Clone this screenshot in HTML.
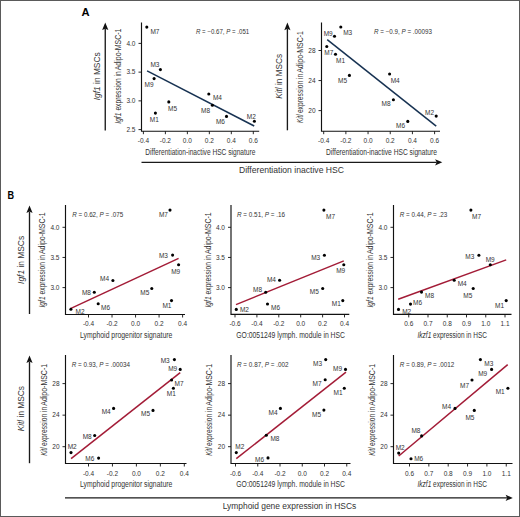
<!DOCTYPE html>
<html><head><meta charset="utf-8"><style>
html,body{margin:0;padding:0;background:#fff;}
body{width:520px;height:517px;overflow:hidden;}
svg{display:block;font-family:"Liberation Sans",sans-serif;}
</style></head><body>
<svg width="520" height="517" viewBox="0 0 520 517">
<rect x="0" y="0" width="520" height="517" fill="#fff"/>
<path d="M141.50,22.50 L141.50,131.20 L259.20,131.20" fill="none" stroke="#111" stroke-width="1.15"/>
<line x1="138.50" y1="43.40" x2="141.50" y2="43.40" stroke="#111" stroke-width="0.9"/>
<text x="135.50" y="45.71" font-size="6.5" text-anchor="end" fill="#333">4.0</text>
<line x1="138.50" y1="72.13" x2="141.50" y2="72.13" stroke="#111" stroke-width="0.9"/>
<text x="135.50" y="74.44" font-size="6.5" text-anchor="end" fill="#333">3.5</text>
<line x1="138.50" y1="100.87" x2="141.50" y2="100.87" stroke="#111" stroke-width="0.9"/>
<text x="135.50" y="103.17" font-size="6.5" text-anchor="end" fill="#333">3.0</text>
<line x1="138.50" y1="129.60" x2="141.50" y2="129.60" stroke="#111" stroke-width="0.9"/>
<text x="135.50" y="131.91" font-size="6.5" text-anchor="end" fill="#333">2.5</text>
<line x1="143.40" y1="131.20" x2="143.40" y2="134.20" stroke="#111" stroke-width="0.9"/>
<text x="143.40" y="143.01" font-size="6.5" text-anchor="middle" fill="#333">-0.4</text>
<line x1="165.38" y1="131.20" x2="165.38" y2="134.20" stroke="#111" stroke-width="0.9"/>
<text x="165.38" y="143.01" font-size="6.5" text-anchor="middle" fill="#333">-0.2</text>
<line x1="187.36" y1="131.20" x2="187.36" y2="134.20" stroke="#111" stroke-width="0.9"/>
<text x="187.36" y="143.01" font-size="6.5" text-anchor="middle" fill="#333">0.0</text>
<line x1="209.34" y1="131.20" x2="209.34" y2="134.20" stroke="#111" stroke-width="0.9"/>
<text x="209.34" y="143.01" font-size="6.5" text-anchor="middle" fill="#333">0.2</text>
<line x1="231.32" y1="131.20" x2="231.32" y2="134.20" stroke="#111" stroke-width="0.9"/>
<text x="231.32" y="143.01" font-size="6.5" text-anchor="middle" fill="#333">0.4</text>
<line x1="253.30" y1="131.20" x2="253.30" y2="134.20" stroke="#111" stroke-width="0.9"/>
<text x="253.30" y="143.01" font-size="6.5" text-anchor="middle" fill="#333">0.6</text>
<line x1="147.10" y1="70.80" x2="254.20" y2="126.00" stroke="#173252" stroke-width="1.5"/>
<circle cx="146.80" cy="27.10" r="1.55" fill="#000"/>
<text x="154.90" y="34.09" font-size="6.5" text-anchor="middle" fill="#333">M7</text>
<circle cx="160.40" cy="69.60" r="1.55" fill="#000"/>
<text x="154.90" y="67.09" font-size="6.5" text-anchor="middle" fill="#333">M3</text>
<circle cx="154.10" cy="78.60" r="1.55" fill="#000"/>
<text x="149.00" y="87.19" font-size="6.5" text-anchor="middle" fill="#333">M9</text>
<circle cx="168.80" cy="101.90" r="1.55" fill="#000"/>
<text x="172.50" y="111.39" font-size="6.5" text-anchor="middle" fill="#333">M5</text>
<circle cx="155.40" cy="113.10" r="1.55" fill="#000"/>
<text x="154.30" y="122.09" font-size="6.5" text-anchor="middle" fill="#333">M1</text>
<circle cx="208.80" cy="94.00" r="1.55" fill="#000"/>
<text x="217.40" y="99.79" font-size="6.5" text-anchor="middle" fill="#333">M4</text>
<circle cx="212.40" cy="105.20" r="1.55" fill="#000"/>
<text x="205.50" y="113.19" font-size="6.5" text-anchor="middle" fill="#333">M8</text>
<circle cx="226.50" cy="116.40" r="1.55" fill="#000"/>
<text x="220.40" y="123.69" font-size="6.5" text-anchor="middle" fill="#333">M6</text>
<circle cx="254.40" cy="121.20" r="1.55" fill="#000"/>
<text x="251.30" y="118.79" font-size="6.5" text-anchor="middle" fill="#333">M2</text>
<text x="196.00" y="34.10" font-size="6.3" fill="#333" textLength="53.20" lengthAdjust="spacingAndGlyphs"><tspan font-style="italic">R</tspan> = −0.67, <tspan font-style="italic">P</tspan> = .051</text>
<text x="145.30" y="154.70" font-size="9.2" fill="#333" textLength="110.10" lengthAdjust="spacingAndGlyphs">Differentiation-inactive HSC signature</text>
<text transform="translate(121.10,123.70) rotate(-90)" x="0" y="0" font-size="8.2" fill="#333" textLength="11.10" lengthAdjust="spacingAndGlyphs"><tspan font-style="italic">Igf1</tspan></text>
<text transform="translate(121.10,110.60) rotate(-90)" x="0" y="0" font-size="8.2" fill="#333" textLength="39.30" lengthAdjust="spacingAndGlyphs">expression in</text>
<text transform="translate(121.10,70.30) rotate(-90)" x="0" y="0" font-size="8.2" fill="#333" textLength="41.80" lengthAdjust="spacingAndGlyphs">Adipo-MSC-1</text>
<path d="M321.50,22.50 L321.50,131.20 L440.00,131.20" fill="none" stroke="#111" stroke-width="1.15"/>
<line x1="318.50" y1="50.50" x2="321.50" y2="50.50" stroke="#111" stroke-width="0.9"/>
<text x="315.50" y="52.81" font-size="6.5" text-anchor="end" fill="#333">28</text>
<line x1="318.50" y1="80.55" x2="321.50" y2="80.55" stroke="#111" stroke-width="0.9"/>
<text x="315.50" y="82.86" font-size="6.5" text-anchor="end" fill="#333">24</text>
<line x1="318.50" y1="110.60" x2="321.50" y2="110.60" stroke="#111" stroke-width="0.9"/>
<text x="315.50" y="112.91" font-size="6.5" text-anchor="end" fill="#333">20</text>
<line x1="323.70" y1="131.20" x2="323.70" y2="134.20" stroke="#111" stroke-width="0.9"/>
<text x="323.70" y="143.01" font-size="6.5" text-anchor="middle" fill="#333">-0.4</text>
<line x1="345.88" y1="131.20" x2="345.88" y2="134.20" stroke="#111" stroke-width="0.9"/>
<text x="345.88" y="143.01" font-size="6.5" text-anchor="middle" fill="#333">-0.2</text>
<line x1="368.06" y1="131.20" x2="368.06" y2="134.20" stroke="#111" stroke-width="0.9"/>
<text x="368.06" y="143.01" font-size="6.5" text-anchor="middle" fill="#333">0.0</text>
<line x1="390.24" y1="131.20" x2="390.24" y2="134.20" stroke="#111" stroke-width="0.9"/>
<text x="390.24" y="143.01" font-size="6.5" text-anchor="middle" fill="#333">0.2</text>
<line x1="412.42" y1="131.20" x2="412.42" y2="134.20" stroke="#111" stroke-width="0.9"/>
<text x="412.42" y="143.01" font-size="6.5" text-anchor="middle" fill="#333">0.4</text>
<line x1="434.60" y1="131.20" x2="434.60" y2="134.20" stroke="#111" stroke-width="0.9"/>
<text x="434.60" y="143.01" font-size="6.5" text-anchor="middle" fill="#333">0.6</text>
<line x1="327.20" y1="39.70" x2="436.20" y2="126.20" stroke="#173252" stroke-width="1.5"/>
<circle cx="340.80" cy="27.00" r="1.55" fill="#000"/>
<text x="347.70" y="34.69" font-size="6.5" text-anchor="middle" fill="#333">M3</text>
<circle cx="334.50" cy="36.30" r="1.55" fill="#000"/>
<text x="328.20" y="36.49" font-size="6.5" text-anchor="middle" fill="#333">M9</text>
<circle cx="326.80" cy="46.50" r="1.55" fill="#000"/>
<text x="328.80" y="55.29" font-size="6.5" text-anchor="middle" fill="#333">M7</text>
<circle cx="335.50" cy="54.20" r="1.55" fill="#000"/>
<text x="340.50" y="62.59" font-size="6.5" text-anchor="middle" fill="#333">M1</text>
<circle cx="349.40" cy="75.40" r="1.55" fill="#000"/>
<text x="342.60" y="82.69" font-size="6.5" text-anchor="middle" fill="#333">M5</text>
<circle cx="389.60" cy="74.00" r="1.55" fill="#000"/>
<text x="395.20" y="83.19" font-size="6.5" text-anchor="middle" fill="#333">M4</text>
<circle cx="393.40" cy="99.80" r="1.55" fill="#000"/>
<text x="386.00" y="105.79" font-size="6.5" text-anchor="middle" fill="#333">M8</text>
<circle cx="436.20" cy="116.10" r="1.55" fill="#000"/>
<text x="429.60" y="114.79" font-size="6.5" text-anchor="middle" fill="#333">M2</text>
<circle cx="407.80" cy="121.40" r="1.55" fill="#000"/>
<text x="400.60" y="127.89" font-size="6.5" text-anchor="middle" fill="#333">M6</text>
<text x="374.00" y="34.10" font-size="6.3" fill="#333" textLength="57.90" lengthAdjust="spacingAndGlyphs"><tspan font-style="italic">R</tspan> = −0.9, <tspan font-style="italic">P</tspan> = .00093</text>
<text x="326.00" y="154.70" font-size="9.2" fill="#333" textLength="111.00" lengthAdjust="spacingAndGlyphs">Differentiation-inactive HSC signature</text>
<text transform="translate(302.90,122.90) rotate(-90)" x="0" y="0" font-size="8.2" fill="#333" textLength="8.40" lengthAdjust="spacingAndGlyphs"><tspan font-style="italic">Kitl</tspan></text>
<text transform="translate(302.90,113.10) rotate(-90)" x="0" y="0" font-size="8.2" fill="#333" textLength="39.30" lengthAdjust="spacingAndGlyphs">expression in</text>
<text transform="translate(302.90,72.80) rotate(-90)" x="0" y="0" font-size="8.2" fill="#333" textLength="41.80" lengthAdjust="spacingAndGlyphs">Adipo-MSC-1</text>
<path d="M65.50,205.00 L65.50,314.50 L185.00,314.50" fill="none" stroke="#111" stroke-width="1.15"/>
<line x1="62.50" y1="227.30" x2="65.50" y2="227.30" stroke="#111" stroke-width="0.9"/>
<text x="59.50" y="229.61" font-size="6.5" text-anchor="end" fill="#333">4.0</text>
<line x1="62.50" y1="257.45" x2="65.50" y2="257.45" stroke="#111" stroke-width="0.9"/>
<text x="59.50" y="259.76" font-size="6.5" text-anchor="end" fill="#333">3.5</text>
<line x1="62.50" y1="287.60" x2="65.50" y2="287.60" stroke="#111" stroke-width="0.9"/>
<text x="59.50" y="289.91" font-size="6.5" text-anchor="end" fill="#333">3.0</text>
<line x1="88.50" y1="314.50" x2="88.50" y2="317.50" stroke="#111" stroke-width="0.9"/>
<text x="88.50" y="325.81" font-size="6.5" text-anchor="middle" fill="#333">-0.4</text>
<line x1="112.03" y1="314.50" x2="112.03" y2="317.50" stroke="#111" stroke-width="0.9"/>
<text x="112.03" y="325.81" font-size="6.5" text-anchor="middle" fill="#333">-0.2</text>
<line x1="135.55" y1="314.50" x2="135.55" y2="317.50" stroke="#111" stroke-width="0.9"/>
<text x="135.55" y="325.81" font-size="6.5" text-anchor="middle" fill="#333">0.0</text>
<line x1="159.07" y1="314.50" x2="159.07" y2="317.50" stroke="#111" stroke-width="0.9"/>
<text x="159.07" y="325.81" font-size="6.5" text-anchor="middle" fill="#333">0.2</text>
<line x1="182.60" y1="314.50" x2="182.60" y2="317.50" stroke="#111" stroke-width="0.9"/>
<text x="182.60" y="325.81" font-size="6.5" text-anchor="middle" fill="#333">0.4</text>
<line x1="70.40" y1="308.60" x2="178.60" y2="258.40" stroke="#a31c37" stroke-width="1.5"/>
<circle cx="170.00" cy="210.10" r="1.55" fill="#000"/>
<text x="163.40" y="217.09" font-size="6.5" text-anchor="middle" fill="#333">M7</text>
<circle cx="172.60" cy="255.10" r="1.55" fill="#000"/>
<text x="163.40" y="257.79" font-size="6.5" text-anchor="middle" fill="#333">M3</text>
<circle cx="178.60" cy="264.70" r="1.55" fill="#000"/>
<text x="175.70" y="274.19" font-size="6.5" text-anchor="middle" fill="#333">M9</text>
<circle cx="112.90" cy="280.50" r="1.55" fill="#000"/>
<text x="104.50" y="281.49" font-size="6.5" text-anchor="middle" fill="#333">M4</text>
<circle cx="151.80" cy="288.50" r="1.55" fill="#000"/>
<text x="144.80" y="295.39" font-size="6.5" text-anchor="middle" fill="#333">M5</text>
<circle cx="94.30" cy="292.30" r="1.55" fill="#000"/>
<text x="86.40" y="295.29" font-size="6.5" text-anchor="middle" fill="#333">M8</text>
<circle cx="171.50" cy="300.60" r="1.55" fill="#000"/>
<text x="166.90" y="308.49" font-size="6.5" text-anchor="middle" fill="#333">M1</text>
<circle cx="98.20" cy="303.80" r="1.55" fill="#000"/>
<text x="105.60" y="309.79" font-size="6.5" text-anchor="middle" fill="#333">M6</text>
<circle cx="70.90" cy="309.20" r="1.55" fill="#000"/>
<text x="80.00" y="313.69" font-size="6.5" text-anchor="middle" fill="#333">M2</text>
<text x="72.20" y="217.10" font-size="6.3" fill="#333" textLength="51.00" lengthAdjust="spacingAndGlyphs"><tspan font-style="italic">R</tspan> = 0.62, <tspan font-style="italic">P</tspan> = .075</text>
<text x="80.00" y="338.20" font-size="9.2" fill="#333" textLength="92.30" lengthAdjust="spacingAndGlyphs">Lymphoid progenitor signature</text>
<text transform="translate(45.10,307.50) rotate(-90)" x="0" y="0" font-size="8.2" fill="#333" textLength="11.10" lengthAdjust="spacingAndGlyphs"><tspan font-style="italic">Igf1</tspan></text>
<text transform="translate(45.10,294.40) rotate(-90)" x="0" y="0" font-size="8.2" fill="#333" textLength="39.30" lengthAdjust="spacingAndGlyphs">expression in</text>
<text transform="translate(45.10,254.10) rotate(-90)" x="0" y="0" font-size="8.2" fill="#333" textLength="41.80" lengthAdjust="spacingAndGlyphs">Adipo-MSC-1</text>
<path d="M231.00,205.00 L231.00,314.40 L349.30,314.40" fill="none" stroke="#111" stroke-width="1.15"/>
<line x1="228.00" y1="227.30" x2="231.00" y2="227.30" stroke="#111" stroke-width="0.9"/>
<text x="225.00" y="229.61" font-size="6.5" text-anchor="end" fill="#333">4.0</text>
<line x1="228.00" y1="257.45" x2="231.00" y2="257.45" stroke="#111" stroke-width="0.9"/>
<text x="225.00" y="259.76" font-size="6.5" text-anchor="end" fill="#333">3.5</text>
<line x1="228.00" y1="287.60" x2="231.00" y2="287.60" stroke="#111" stroke-width="0.9"/>
<text x="225.00" y="289.91" font-size="6.5" text-anchor="end" fill="#333">3.0</text>
<line x1="235.00" y1="314.40" x2="235.00" y2="317.40" stroke="#111" stroke-width="0.9"/>
<text x="235.00" y="325.81" font-size="6.5" text-anchor="middle" fill="#333">-0.6</text>
<line x1="256.90" y1="314.40" x2="256.90" y2="317.40" stroke="#111" stroke-width="0.9"/>
<text x="256.90" y="325.81" font-size="6.5" text-anchor="middle" fill="#333">-0.4</text>
<line x1="278.80" y1="314.40" x2="278.80" y2="317.40" stroke="#111" stroke-width="0.9"/>
<text x="278.80" y="325.81" font-size="6.5" text-anchor="middle" fill="#333">-0.2</text>
<line x1="300.70" y1="314.40" x2="300.70" y2="317.40" stroke="#111" stroke-width="0.9"/>
<text x="300.70" y="325.81" font-size="6.5" text-anchor="middle" fill="#333">0.0</text>
<line x1="322.60" y1="314.40" x2="322.60" y2="317.40" stroke="#111" stroke-width="0.9"/>
<text x="322.60" y="325.81" font-size="6.5" text-anchor="middle" fill="#333">0.2</text>
<line x1="344.50" y1="314.40" x2="344.50" y2="317.40" stroke="#111" stroke-width="0.9"/>
<text x="344.50" y="325.81" font-size="6.5" text-anchor="middle" fill="#333">0.4</text>
<line x1="236.00" y1="304.60" x2="343.80" y2="260.90" stroke="#a31c37" stroke-width="1.5"/>
<circle cx="323.90" cy="210.10" r="1.55" fill="#000"/>
<text x="330.50" y="219.09" font-size="6.5" text-anchor="middle" fill="#333">M7</text>
<circle cx="324.40" cy="255.30" r="1.55" fill="#000"/>
<text x="315.70" y="259.99" font-size="6.5" text-anchor="middle" fill="#333">M3</text>
<circle cx="343.80" cy="264.70" r="1.55" fill="#000"/>
<text x="340.70" y="272.89" font-size="6.5" text-anchor="middle" fill="#333">M9</text>
<circle cx="279.60" cy="280.20" r="1.55" fill="#000"/>
<text x="271.40" y="281.99" font-size="6.5" text-anchor="middle" fill="#333">M4</text>
<circle cx="322.70" cy="288.50" r="1.55" fill="#000"/>
<text x="314.30" y="294.29" font-size="6.5" text-anchor="middle" fill="#333">M5</text>
<circle cx="265.70" cy="292.20" r="1.55" fill="#000"/>
<text x="257.60" y="292.49" font-size="6.5" text-anchor="middle" fill="#333">M8</text>
<circle cx="342.80" cy="300.60" r="1.55" fill="#000"/>
<text x="336.30" y="306.39" font-size="6.5" text-anchor="middle" fill="#333">M1</text>
<circle cx="267.50" cy="304.00" r="1.55" fill="#000"/>
<text x="275.50" y="309.89" font-size="6.5" text-anchor="middle" fill="#333">M6</text>
<circle cx="236.30" cy="309.40" r="1.55" fill="#000"/>
<text x="244.40" y="312.39" font-size="6.5" text-anchor="middle" fill="#333">M2</text>
<text x="237.00" y="217.10" font-size="6.3" fill="#333" textLength="48.00" lengthAdjust="spacingAndGlyphs"><tspan font-style="italic">R</tspan> = 0.51, <tspan font-style="italic">P</tspan> = .16</text>
<text x="236.30" y="338.20" font-size="9.2" fill="#333" textLength="108.70" lengthAdjust="spacingAndGlyphs">GO:0051249 lymph. module in HSC</text>
<text transform="translate(210.50,307.50) rotate(-90)" x="0" y="0" font-size="8.2" fill="#333" textLength="11.10" lengthAdjust="spacingAndGlyphs"><tspan font-style="italic">Igf1</tspan></text>
<text transform="translate(210.50,294.40) rotate(-90)" x="0" y="0" font-size="8.2" fill="#333" textLength="39.30" lengthAdjust="spacingAndGlyphs">expression in</text>
<text transform="translate(210.50,254.10) rotate(-90)" x="0" y="0" font-size="8.2" fill="#333" textLength="41.80" lengthAdjust="spacingAndGlyphs">Adipo-MSC-1</text>
<path d="M393.50,205.00 L393.50,314.40 L511.50,314.40" fill="none" stroke="#111" stroke-width="1.15"/>
<line x1="390.50" y1="227.30" x2="393.50" y2="227.30" stroke="#111" stroke-width="0.9"/>
<text x="387.50" y="229.61" font-size="6.5" text-anchor="end" fill="#333">4.0</text>
<line x1="390.50" y1="257.45" x2="393.50" y2="257.45" stroke="#111" stroke-width="0.9"/>
<text x="387.50" y="259.76" font-size="6.5" text-anchor="end" fill="#333">3.5</text>
<line x1="390.50" y1="287.60" x2="393.50" y2="287.60" stroke="#111" stroke-width="0.9"/>
<text x="387.50" y="289.91" font-size="6.5" text-anchor="end" fill="#333">3.0</text>
<line x1="408.75" y1="314.40" x2="408.75" y2="317.40" stroke="#111" stroke-width="0.9"/>
<text x="408.75" y="325.51" font-size="6.5" text-anchor="middle" fill="#333">0.6</text>
<line x1="428.00" y1="314.40" x2="428.00" y2="317.40" stroke="#111" stroke-width="0.9"/>
<text x="428.00" y="325.51" font-size="6.5" text-anchor="middle" fill="#333">0.7</text>
<line x1="447.25" y1="314.40" x2="447.25" y2="317.40" stroke="#111" stroke-width="0.9"/>
<text x="447.25" y="325.51" font-size="6.5" text-anchor="middle" fill="#333">0.8</text>
<line x1="466.50" y1="314.40" x2="466.50" y2="317.40" stroke="#111" stroke-width="0.9"/>
<text x="466.50" y="325.51" font-size="6.5" text-anchor="middle" fill="#333">0.9</text>
<line x1="485.75" y1="314.40" x2="485.75" y2="317.40" stroke="#111" stroke-width="0.9"/>
<text x="485.75" y="325.51" font-size="6.5" text-anchor="middle" fill="#333">1.0</text>
<line x1="505.00" y1="314.40" x2="505.00" y2="317.40" stroke="#111" stroke-width="0.9"/>
<text x="505.00" y="325.51" font-size="6.5" text-anchor="middle" fill="#333">1.1</text>
<line x1="398.20" y1="299.30" x2="506.20" y2="259.90" stroke="#a31c37" stroke-width="1.5"/>
<circle cx="470.90" cy="210.10" r="1.55" fill="#000"/>
<text x="476.50" y="219.09" font-size="6.5" text-anchor="middle" fill="#333">M7</text>
<circle cx="478.90" cy="255.30" r="1.55" fill="#000"/>
<text x="469.80" y="259.09" font-size="6.5" text-anchor="middle" fill="#333">M3</text>
<circle cx="490.30" cy="264.70" r="1.55" fill="#000"/>
<text x="490.20" y="261.59" font-size="6.5" text-anchor="middle" fill="#333">M9</text>
<circle cx="454.20" cy="280.20" r="1.55" fill="#000"/>
<text x="462.20" y="285.99" font-size="6.5" text-anchor="middle" fill="#333">M4</text>
<circle cx="473.20" cy="288.50" r="1.55" fill="#000"/>
<text x="467.80" y="297.59" font-size="6.5" text-anchor="middle" fill="#333">M5</text>
<circle cx="421.50" cy="292.10" r="1.55" fill="#000"/>
<text x="429.50" y="298.09" font-size="6.5" text-anchor="middle" fill="#333">M8</text>
<circle cx="506.20" cy="300.60" r="1.55" fill="#000"/>
<text x="499.60" y="308.39" font-size="6.5" text-anchor="middle" fill="#333">M1</text>
<circle cx="410.50" cy="304.10" r="1.55" fill="#000"/>
<text x="417.50" y="305.09" font-size="6.5" text-anchor="middle" fill="#333">M6</text>
<circle cx="398.50" cy="309.40" r="1.55" fill="#000"/>
<text x="406.70" y="313.69" font-size="6.5" text-anchor="middle" fill="#333">M2</text>
<text x="399.70" y="217.10" font-size="6.3" fill="#333" textLength="47.60" lengthAdjust="spacingAndGlyphs"><tspan font-style="italic">R</tspan> = 0.44, <tspan font-style="italic">P</tspan> = .23</text>
<text x="417.50" y="338.20" font-size="9.2" fill="#333" textLength="69.50" lengthAdjust="spacingAndGlyphs"><tspan font-style="italic">Ikzf1</tspan> expression in HSC</text>
<text transform="translate(372.90,307.50) rotate(-90)" x="0" y="0" font-size="8.2" fill="#333" textLength="11.10" lengthAdjust="spacingAndGlyphs"><tspan font-style="italic">Igf1</tspan></text>
<text transform="translate(372.90,294.40) rotate(-90)" x="0" y="0" font-size="8.2" fill="#333" textLength="39.30" lengthAdjust="spacingAndGlyphs">expression in</text>
<text transform="translate(372.90,254.10) rotate(-90)" x="0" y="0" font-size="8.2" fill="#333" textLength="41.80" lengthAdjust="spacingAndGlyphs">Adipo-MSC-1</text>
<path d="M65.50,355.00 L65.50,463.50 L186.50,463.50" fill="none" stroke="#111" stroke-width="1.15"/>
<line x1="62.50" y1="383.60" x2="65.50" y2="383.60" stroke="#111" stroke-width="0.9"/>
<text x="59.50" y="385.91" font-size="6.5" text-anchor="end" fill="#333">28</text>
<line x1="62.50" y1="415.15" x2="65.50" y2="415.15" stroke="#111" stroke-width="0.9"/>
<text x="59.50" y="417.46" font-size="6.5" text-anchor="end" fill="#333">24</text>
<line x1="62.50" y1="446.70" x2="65.50" y2="446.70" stroke="#111" stroke-width="0.9"/>
<text x="59.50" y="449.01" font-size="6.5" text-anchor="end" fill="#333">20</text>
<line x1="88.50" y1="463.50" x2="88.50" y2="466.50" stroke="#111" stroke-width="0.9"/>
<text x="88.50" y="475.81" font-size="6.5" text-anchor="middle" fill="#333">-0.4</text>
<line x1="112.45" y1="463.50" x2="112.45" y2="466.50" stroke="#111" stroke-width="0.9"/>
<text x="112.45" y="475.81" font-size="6.5" text-anchor="middle" fill="#333">-0.2</text>
<line x1="136.40" y1="463.50" x2="136.40" y2="466.50" stroke="#111" stroke-width="0.9"/>
<text x="136.40" y="475.81" font-size="6.5" text-anchor="middle" fill="#333">0.0</text>
<line x1="160.35" y1="463.50" x2="160.35" y2="466.50" stroke="#111" stroke-width="0.9"/>
<text x="160.35" y="475.81" font-size="6.5" text-anchor="middle" fill="#333">0.2</text>
<line x1="184.30" y1="463.50" x2="184.30" y2="466.50" stroke="#111" stroke-width="0.9"/>
<text x="184.30" y="475.81" font-size="6.5" text-anchor="middle" fill="#333">0.4</text>
<line x1="71.10" y1="458.70" x2="180.20" y2="372.70" stroke="#a31c37" stroke-width="1.5"/>
<circle cx="174.40" cy="359.60" r="1.55" fill="#000"/>
<text x="165.20" y="363.09" font-size="6.5" text-anchor="middle" fill="#333">M3</text>
<circle cx="180.20" cy="369.40" r="1.55" fill="#000"/>
<text x="172.70" y="371.39" font-size="6.5" text-anchor="middle" fill="#333">M9</text>
<circle cx="171.60" cy="380.00" r="1.55" fill="#000"/>
<text x="179.00" y="386.49" font-size="6.5" text-anchor="middle" fill="#333">M7</text>
<circle cx="173.40" cy="388.20" r="1.55" fill="#000"/>
<text x="171.30" y="396.49" font-size="6.5" text-anchor="middle" fill="#333">M1</text>
<circle cx="113.60" cy="408.40" r="1.55" fill="#000"/>
<text x="106.20" y="413.59" font-size="6.5" text-anchor="middle" fill="#333">M4</text>
<circle cx="153.00" cy="410.40" r="1.55" fill="#000"/>
<text x="145.50" y="415.89" font-size="6.5" text-anchor="middle" fill="#333">M5</text>
<circle cx="94.70" cy="435.50" r="1.55" fill="#000"/>
<text x="87.20" y="438.89" font-size="6.5" text-anchor="middle" fill="#333">M8</text>
<circle cx="71.00" cy="452.60" r="1.55" fill="#000"/>
<text x="72.20" y="449.29" font-size="6.5" text-anchor="middle" fill="#333">M2</text>
<circle cx="98.60" cy="458.10" r="1.55" fill="#000"/>
<text x="89.80" y="460.69" font-size="6.5" text-anchor="middle" fill="#333">M6</text>
<text x="71.80" y="366.60" font-size="6.3" fill="#333" textLength="58.10" lengthAdjust="spacingAndGlyphs"><tspan font-style="italic">R</tspan> = 0.93, <tspan font-style="italic">P</tspan> = .00034</text>
<text x="80.00" y="486.90" font-size="9.2" fill="#333" textLength="92.30" lengthAdjust="spacingAndGlyphs">Lymphoid progenitor signature</text>
<text transform="translate(47.00,455.80) rotate(-90)" x="0" y="0" font-size="8.2" fill="#333" textLength="8.40" lengthAdjust="spacingAndGlyphs"><tspan font-style="italic">Kitl</tspan></text>
<text transform="translate(47.00,446.00) rotate(-90)" x="0" y="0" font-size="8.2" fill="#333" textLength="39.30" lengthAdjust="spacingAndGlyphs">expression in</text>
<text transform="translate(47.00,405.70) rotate(-90)" x="0" y="0" font-size="8.2" fill="#333" textLength="41.80" lengthAdjust="spacingAndGlyphs">Adipo-MSC-1</text>
<path d="M231.00,355.00 L231.00,463.50 L350.50,463.50" fill="none" stroke="#111" stroke-width="1.15"/>
<line x1="228.00" y1="383.60" x2="231.00" y2="383.60" stroke="#111" stroke-width="0.9"/>
<text x="225.00" y="385.91" font-size="6.5" text-anchor="end" fill="#333">28</text>
<line x1="228.00" y1="415.15" x2="231.00" y2="415.15" stroke="#111" stroke-width="0.9"/>
<text x="225.00" y="417.46" font-size="6.5" text-anchor="end" fill="#333">24</text>
<line x1="228.00" y1="446.70" x2="231.00" y2="446.70" stroke="#111" stroke-width="0.9"/>
<text x="225.00" y="449.01" font-size="6.5" text-anchor="end" fill="#333">20</text>
<line x1="235.50" y1="463.50" x2="235.50" y2="466.50" stroke="#111" stroke-width="0.9"/>
<text x="235.50" y="475.81" font-size="6.5" text-anchor="middle" fill="#333">-0.6</text>
<line x1="257.75" y1="463.50" x2="257.75" y2="466.50" stroke="#111" stroke-width="0.9"/>
<text x="257.75" y="475.81" font-size="6.5" text-anchor="middle" fill="#333">-0.4</text>
<line x1="280.00" y1="463.50" x2="280.00" y2="466.50" stroke="#111" stroke-width="0.9"/>
<text x="280.00" y="475.81" font-size="6.5" text-anchor="middle" fill="#333">-0.2</text>
<line x1="302.25" y1="463.50" x2="302.25" y2="466.50" stroke="#111" stroke-width="0.9"/>
<text x="302.25" y="475.81" font-size="6.5" text-anchor="middle" fill="#333">0.0</text>
<line x1="324.50" y1="463.50" x2="324.50" y2="466.50" stroke="#111" stroke-width="0.9"/>
<text x="324.50" y="475.81" font-size="6.5" text-anchor="middle" fill="#333">0.2</text>
<line x1="346.75" y1="463.50" x2="346.75" y2="466.50" stroke="#111" stroke-width="0.9"/>
<text x="346.75" y="475.81" font-size="6.5" text-anchor="middle" fill="#333">0.4</text>
<line x1="236.30" y1="458.70" x2="346.00" y2="372.20" stroke="#a31c37" stroke-width="1.5"/>
<circle cx="325.70" cy="359.60" r="1.55" fill="#000"/>
<text x="317.50" y="365.59" font-size="6.5" text-anchor="middle" fill="#333">M3</text>
<circle cx="345.50" cy="369.40" r="1.55" fill="#000"/>
<text x="337.60" y="370.89" font-size="6.5" text-anchor="middle" fill="#333">M9</text>
<circle cx="325.20" cy="379.70" r="1.55" fill="#000"/>
<text x="317.00" y="386.19" font-size="6.5" text-anchor="middle" fill="#333">M7</text>
<circle cx="344.30" cy="388.20" r="1.55" fill="#000"/>
<text x="338.00" y="395.29" font-size="6.5" text-anchor="middle" fill="#333">M1</text>
<circle cx="280.40" cy="408.40" r="1.55" fill="#000"/>
<text x="273.10" y="415.39" font-size="6.5" text-anchor="middle" fill="#333">M4</text>
<circle cx="323.90" cy="410.10" r="1.55" fill="#000"/>
<text x="316.50" y="417.19" font-size="6.5" text-anchor="middle" fill="#333">M5</text>
<circle cx="266.30" cy="435.30" r="1.55" fill="#000"/>
<text x="274.90" y="441.39" font-size="6.5" text-anchor="middle" fill="#333">M8</text>
<circle cx="236.30" cy="452.60" r="1.55" fill="#000"/>
<text x="239.80" y="449.29" font-size="6.5" text-anchor="middle" fill="#333">M2</text>
<circle cx="268.00" cy="457.90" r="1.55" fill="#000"/>
<text x="259.60" y="461.69" font-size="6.5" text-anchor="middle" fill="#333">M6</text>
<text x="237.00" y="366.60" font-size="6.3" fill="#333" textLength="51.60" lengthAdjust="spacingAndGlyphs"><tspan font-style="italic">R</tspan> = 0.87, <tspan font-style="italic">P</tspan> = .002</text>
<text x="236.30" y="486.90" font-size="9.2" fill="#333" textLength="108.70" lengthAdjust="spacingAndGlyphs">GO:0051249 lymph. module in HSC</text>
<text transform="translate(212.40,455.80) rotate(-90)" x="0" y="0" font-size="8.2" fill="#333" textLength="8.40" lengthAdjust="spacingAndGlyphs"><tspan font-style="italic">Kitl</tspan></text>
<text transform="translate(212.40,446.00) rotate(-90)" x="0" y="0" font-size="8.2" fill="#333" textLength="39.30" lengthAdjust="spacingAndGlyphs">expression in</text>
<text transform="translate(212.40,405.70) rotate(-90)" x="0" y="0" font-size="8.2" fill="#333" textLength="41.80" lengthAdjust="spacingAndGlyphs">Adipo-MSC-1</text>
<path d="M393.50,355.00 L393.50,463.50 L512.50,463.50" fill="none" stroke="#111" stroke-width="1.15"/>
<line x1="390.50" y1="383.60" x2="393.50" y2="383.60" stroke="#111" stroke-width="0.9"/>
<text x="387.50" y="385.91" font-size="6.5" text-anchor="end" fill="#333">28</text>
<line x1="390.50" y1="415.15" x2="393.50" y2="415.15" stroke="#111" stroke-width="0.9"/>
<text x="387.50" y="417.46" font-size="6.5" text-anchor="end" fill="#333">24</text>
<line x1="390.50" y1="446.70" x2="393.50" y2="446.70" stroke="#111" stroke-width="0.9"/>
<text x="387.50" y="449.01" font-size="6.5" text-anchor="end" fill="#333">20</text>
<line x1="409.50" y1="463.50" x2="409.50" y2="466.50" stroke="#111" stroke-width="0.9"/>
<text x="409.50" y="475.81" font-size="6.5" text-anchor="middle" fill="#333">0.6</text>
<line x1="428.85" y1="463.50" x2="428.85" y2="466.50" stroke="#111" stroke-width="0.9"/>
<text x="428.85" y="475.81" font-size="6.5" text-anchor="middle" fill="#333">0.7</text>
<line x1="448.20" y1="463.50" x2="448.20" y2="466.50" stroke="#111" stroke-width="0.9"/>
<text x="448.20" y="475.81" font-size="6.5" text-anchor="middle" fill="#333">0.8</text>
<line x1="467.55" y1="463.50" x2="467.55" y2="466.50" stroke="#111" stroke-width="0.9"/>
<text x="467.55" y="475.81" font-size="6.5" text-anchor="middle" fill="#333">0.9</text>
<line x1="486.90" y1="463.50" x2="486.90" y2="466.50" stroke="#111" stroke-width="0.9"/>
<text x="486.90" y="475.81" font-size="6.5" text-anchor="middle" fill="#333">1.0</text>
<line x1="506.25" y1="463.50" x2="506.25" y2="466.50" stroke="#111" stroke-width="0.9"/>
<text x="506.25" y="475.81" font-size="6.5" text-anchor="middle" fill="#333">1.1</text>
<line x1="398.70" y1="456.00" x2="507.70" y2="364.60" stroke="#a31c37" stroke-width="1.5"/>
<circle cx="480.40" cy="359.60" r="1.55" fill="#000"/>
<text x="488.80" y="365.59" font-size="6.5" text-anchor="middle" fill="#333">M3</text>
<circle cx="491.60" cy="369.40" r="1.55" fill="#000"/>
<text x="482.70" y="376.39" font-size="6.5" text-anchor="middle" fill="#333">M9</text>
<circle cx="472.00" cy="380.00" r="1.55" fill="#000"/>
<text x="464.60" y="388.19" font-size="6.5" text-anchor="middle" fill="#333">M7</text>
<circle cx="507.90" cy="388.20" r="1.55" fill="#000"/>
<text x="500.20" y="393.99" font-size="6.5" text-anchor="middle" fill="#333">M1</text>
<circle cx="455.00" cy="408.40" r="1.55" fill="#000"/>
<text x="446.50" y="408.89" font-size="6.5" text-anchor="middle" fill="#333">M4</text>
<circle cx="474.30" cy="410.40" r="1.55" fill="#000"/>
<text x="469.90" y="419.69" font-size="6.5" text-anchor="middle" fill="#333">M5</text>
<circle cx="421.60" cy="435.90" r="1.55" fill="#000"/>
<text x="415.90" y="432.99" font-size="6.5" text-anchor="middle" fill="#333">M8</text>
<circle cx="398.70" cy="453.10" r="1.55" fill="#000"/>
<text x="400.20" y="449.79" font-size="6.5" text-anchor="middle" fill="#333">M2</text>
<circle cx="411.00" cy="458.70" r="1.55" fill="#000"/>
<text x="418.70" y="460.99" font-size="6.5" text-anchor="middle" fill="#333">M6</text>
<text x="399.70" y="366.60" font-size="6.3" fill="#333" textLength="54.60" lengthAdjust="spacingAndGlyphs"><tspan font-style="italic">R</tspan> = 0.89, <tspan font-style="italic">P</tspan> = .0012</text>
<text x="417.50" y="486.90" font-size="9.2" fill="#333" textLength="69.50" lengthAdjust="spacingAndGlyphs"><tspan font-style="italic">Ikzf1</tspan> expression in HSC</text>
<text transform="translate(374.90,455.80) rotate(-90)" x="0" y="0" font-size="8.2" fill="#333" textLength="8.40" lengthAdjust="spacingAndGlyphs"><tspan font-style="italic">Kitl</tspan></text>
<text transform="translate(374.90,446.00) rotate(-90)" x="0" y="0" font-size="8.2" fill="#333" textLength="39.30" lengthAdjust="spacingAndGlyphs">expression in</text>
<text transform="translate(374.90,405.70) rotate(-90)" x="0" y="0" font-size="8.2" fill="#333" textLength="41.80" lengthAdjust="spacingAndGlyphs">Adipo-MSC-1</text>
<line x1="105.25" y1="130.50" x2="105.25" y2="28.70" stroke="#1a1a1a" stroke-width="1.35"/>
<path d="M105.25,22.50 L108.35,30.10 L105.25,28.70 L102.15,30.10 Z" fill="#111"/>
<text transform="translate(100.30,76.30) rotate(-90)" x="0" y="0" font-size="8.6" text-anchor="middle" fill="#333" textLength="48.00" lengthAdjust="spacingAndGlyphs"><tspan font-style="italic">Igf1</tspan> in MSCs</text>
<line x1="287.40" y1="130.30" x2="287.40" y2="28.80" stroke="#1a1a1a" stroke-width="1.35"/>
<path d="M287.40,22.60 L290.50,30.20 L287.40,28.80 L284.30,30.20 Z" fill="#111"/>
<text transform="translate(282.30,76.40) rotate(-90)" x="0" y="0" font-size="8.6" text-anchor="middle" fill="#333" textLength="44.90" lengthAdjust="spacingAndGlyphs"><tspan font-style="italic">Kitl</tspan> in MSCs</text>
<line x1="29.50" y1="314.00" x2="29.50" y2="211.60" stroke="#1a1a1a" stroke-width="1.35"/>
<path d="M29.50,205.40 L32.60,213.00 L29.50,211.60 L26.40,213.00 Z" fill="#111"/>
<text transform="translate(24.10,259.90) rotate(-90)" x="0" y="0" font-size="8.6" text-anchor="middle" fill="#333" textLength="48.00" lengthAdjust="spacingAndGlyphs"><tspan font-style="italic">Igf1</tspan> in MSCs</text>
<line x1="29.50" y1="463.20" x2="29.50" y2="361.60" stroke="#1a1a1a" stroke-width="1.35"/>
<path d="M29.50,355.40 L32.60,363.00 L29.50,361.60 L26.40,363.00 Z" fill="#111"/>
<text transform="translate(24.30,408.70) rotate(-90)" x="0" y="0" font-size="8.6" text-anchor="middle" fill="#333" textLength="45.30" lengthAdjust="spacingAndGlyphs"><tspan font-style="italic">Kitl</tspan> in MSCs</text>
<line x1="141.50" y1="162.30" x2="436.70" y2="162.30" stroke="#1a1a1a" stroke-width="1.3"/>
<path d="M442.30,162.30 L435.10,159.20 L436.70,162.30 L435.10,165.40 Z" fill="#111"/>
<text x="239.0" y="172.6" font-size="9.2" fill="#333" textLength="105.0" lengthAdjust="spacingAndGlyphs">Differentiation inactive HSC</text>
<line x1="65.00" y1="497.90" x2="507.20" y2="497.90" stroke="#1a1a1a" stroke-width="1.3"/>
<path d="M512.80,497.90 L505.60,494.80 L507.20,497.90 L505.60,501.00 Z" fill="#111"/>
<text x="222.7" y="508.6" font-size="9.2" fill="#333" textLength="133.6" lengthAdjust="spacingAndGlyphs">Lymphoid gene expression in HSCs</text>
<text x="81.6" y="15.6" font-size="11.2" font-weight="bold" fill="#000" textLength="8.1" lengthAdjust="spacingAndGlyphs">A</text>
<text x="7.4" y="199.0" font-size="11.2" font-weight="bold" fill="#000" textLength="6.6" lengthAdjust="spacingAndGlyphs">B</text>
<rect x="0.5" y="0.5" width="519" height="516" fill="none" stroke="#5a5a5a" stroke-width="1"/>
</svg>
</body></html>
